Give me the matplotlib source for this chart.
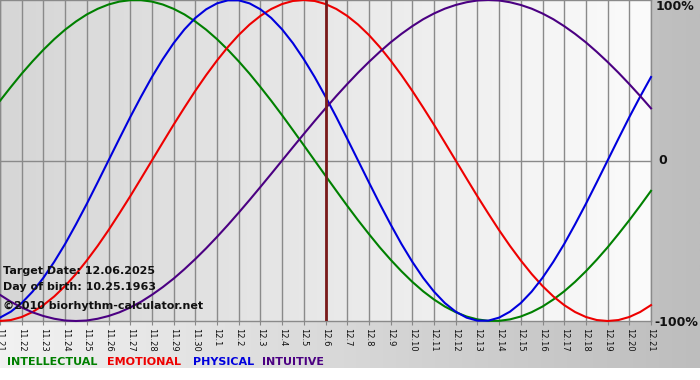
import matplotlib
matplotlib.use('Agg')
import matplotlib.pyplot as plt
import numpy as np
from matplotlib.colors import LinearSegmentedColormap

# day labels, 11.21 .. 12.21
days = ['11.21', '11.22', '11.23', '11.24', '11.25', '11.26', '11.27', '11.28', '11.29', '11.30',
        '12.1', '12.2', '12.3', '12.4', '12.5', '12.6', '12.7', '12.8', '12.9', '12.10',
        '12.11', '12.12', '12.13', '12.14', '12.15', '12.16', '12.17', '12.18', '12.19', '12.20', '12.21']

# cycle values (-1 .. 1), every half day
intellectual = [0.372, 0.458, 0.541, 0.618, 0.690, 0.756, 0.815, 0.866, 0.910, 0.945,
                0.972, 0.990, 0.999, 0.999, 0.990, 0.972, 0.945, 0.910, 0.866, 0.815,
                0.756, 0.690, 0.618, 0.541, 0.458, 0.372, 0.282, 0.189, 0.095, 0.0,
                -0.095, -0.189, -0.282, -0.372, -0.458, -0.541, -0.618, -0.690, -0.756, -0.815,
                -0.866, -0.910, -0.945, -0.972, -0.990, -0.999, -0.999, -0.990, -0.972, -0.945,
                -0.910, -0.866, -0.815, -0.756, -0.690, -0.618, -0.541, -0.458, -0.372, -0.282,
                -0.189]
emotional = [-1.0, -0.994, -0.975, -0.944, -0.901, -0.847, -0.782, -0.707, -0.623, -0.532,
             -0.434, -0.330, -0.223, -0.112, 0.0, 0.112, 0.223, 0.330, 0.434, 0.532,
             0.623, 0.707, 0.782, 0.847, 0.901, 0.944, 0.975, 0.994, 1.0, 0.994,
             0.975, 0.944, 0.901, 0.847, 0.782, 0.707, 0.623, 0.532, 0.434, 0.330,
             0.223, 0.112, 0.0, -0.112, -0.223, -0.330, -0.434, -0.532, -0.623, -0.707,
             -0.782, -0.847, -0.901, -0.944, -0.975, -0.994, -1.0, -0.994, -0.975, -0.944,
             -0.901]
physical = [-0.979, -0.942, -0.888, -0.817, -0.731, -0.631, -0.520, -0.398, -0.270, -0.136,
            0.0, 0.136, 0.270, 0.398, 0.520, 0.631, 0.731, 0.817, 0.888, 0.942,
            0.979, 0.998, 0.998, 0.979, 0.942, 0.888, 0.817, 0.731, 0.631, 0.520,
            0.398, 0.270, 0.136, 0.0, -0.136, -0.270, -0.398, -0.520, -0.631, -0.731,
            -0.817, -0.888, -0.942, -0.979, -0.998, -0.998, -0.979, -0.942, -0.888, -0.817,
            -0.731, -0.631, -0.520, -0.398, -0.270, -0.136, 0.0, 0.136, 0.270, 0.398,
            0.520]
intuitive = [-0.837, -0.880, -0.916, -0.946, -0.969, -0.986, -0.997, -1.0, -0.997, -0.986,
             -0.969, -0.946, -0.916, -0.880, -0.837, -0.789, -0.736, -0.677, -0.614, -0.547,
             -0.476, -0.402, -0.325, -0.246, -0.165, -0.083, 0.0, 0.083, 0.165, 0.246,
             0.325, 0.402, 0.476, 0.547, 0.614, 0.677, 0.736, 0.789, 0.837, 0.880,
             0.916, 0.946, 0.969, 0.986, 0.997, 1.0, 0.997, 0.986, 0.969, 0.946,
             0.916, 0.880, 0.837, 0.789, 0.736, 0.677, 0.614, 0.547, 0.476, 0.402,
             0.325]

target_day = '12.6'

series = [('INTELLECTUAL', intellectual, '#008000'),
          ('EMOTIONAL', emotional, '#ee0000'),
          ('PHYSICAL', physical, '#0000dd'),
          ('INTUITIVE', intuitive, '#4b0082')]

W, H = 700, 380
fig = plt.figure(figsize=(7, 3.8), dpi=100, facecolor='white')

# figure background gradient (light -> grey), white strip at the bottom
grad = np.linspace(0, 1, 256).reshape(1, -1)
bg = fig.add_axes([0, 0, 1, 1], zorder=-10)
bg.axis('off')
bg.imshow(grad, cmap=LinearSegmentedColormap.from_list('fbg', ['#f2f2f2', '#bdbdbd']),
          aspect='auto', extent=[0, 1, 12 / H, 1])
bg.set_xlim(0, 1)
bg.set_ylim(0, 1)

ax = fig.add_axes([0, 59 / H, 651 / W, 321 / H])
x = np.arange(len(days))
ax.imshow(grad, cmap=LinearSegmentedColormap.from_list('pbg', ['#d6d6d6', '#fbfbfb']),
          aspect='auto', extent=[0, len(days) - 1, -1, 1], zorder=0)

ax.set_xticks(x)
ax.set_xticklabels(days, rotation=270, fontsize=6, color='#111111')
ax.tick_params(axis='x', length=3, pad=2, color='#888888')
ax.set_yticks([])
ax.grid(axis='x', color='#8a8a8a', lw=1, zorder=1)
ax.set_axisbelow(False)
ax.axhline(0, color='#8a8a8a', lw=1, zorder=1)
for s in ax.spines.values():
    s.set_color('#8a8a8a')
    s.set_linewidth(1)

for name, vals, col in series:
    xs = np.arange(len(vals)) / 2.0  # half-day steps
    ax.plot(xs, vals, color=col, lw=1.5, zorder=3, clip_on=False)

ax.axvline(days.index(target_day), color='#7a1a1a', lw=2, zorder=4)

ax.set_xlim(0, len(days) - 1)
ax.set_ylim(-1, 1)

# right side scale labels
lab = dict(fontsize=8, fontweight='bold', color='#111111', va='center')
scale = dict(lab, fontsize=9)
fig.text(656 / W, 1 - 7 / H, '100%', **scale)
fig.text(658 / W, 1 - 161 / H, '0', **scale)
fig.text(654 / W, 1 - 322 / H, '-100%', **scale)

# info text
fig.text(3 / W, 1 - 271 / H, 'Target Date: 12.06.2025', **lab)
fig.text(3 / W, 1 - 287 / H, 'Day of birth: 10.25.1963', **lab)
fig.text(3 / W, 1 - 306 / H, '\u00a92010 biorhythm-calculator.net', **lab)

# legend
leg_x = [7, 107, 193, 262]
for (name, vals, col), lx in zip(series, leg_x):
    fig.text(lx / W, 1 - 362 / H, name, fontsize=8, fontweight='bold', color=col, va='center')

fig.savefig('out.png', dpi=100)
